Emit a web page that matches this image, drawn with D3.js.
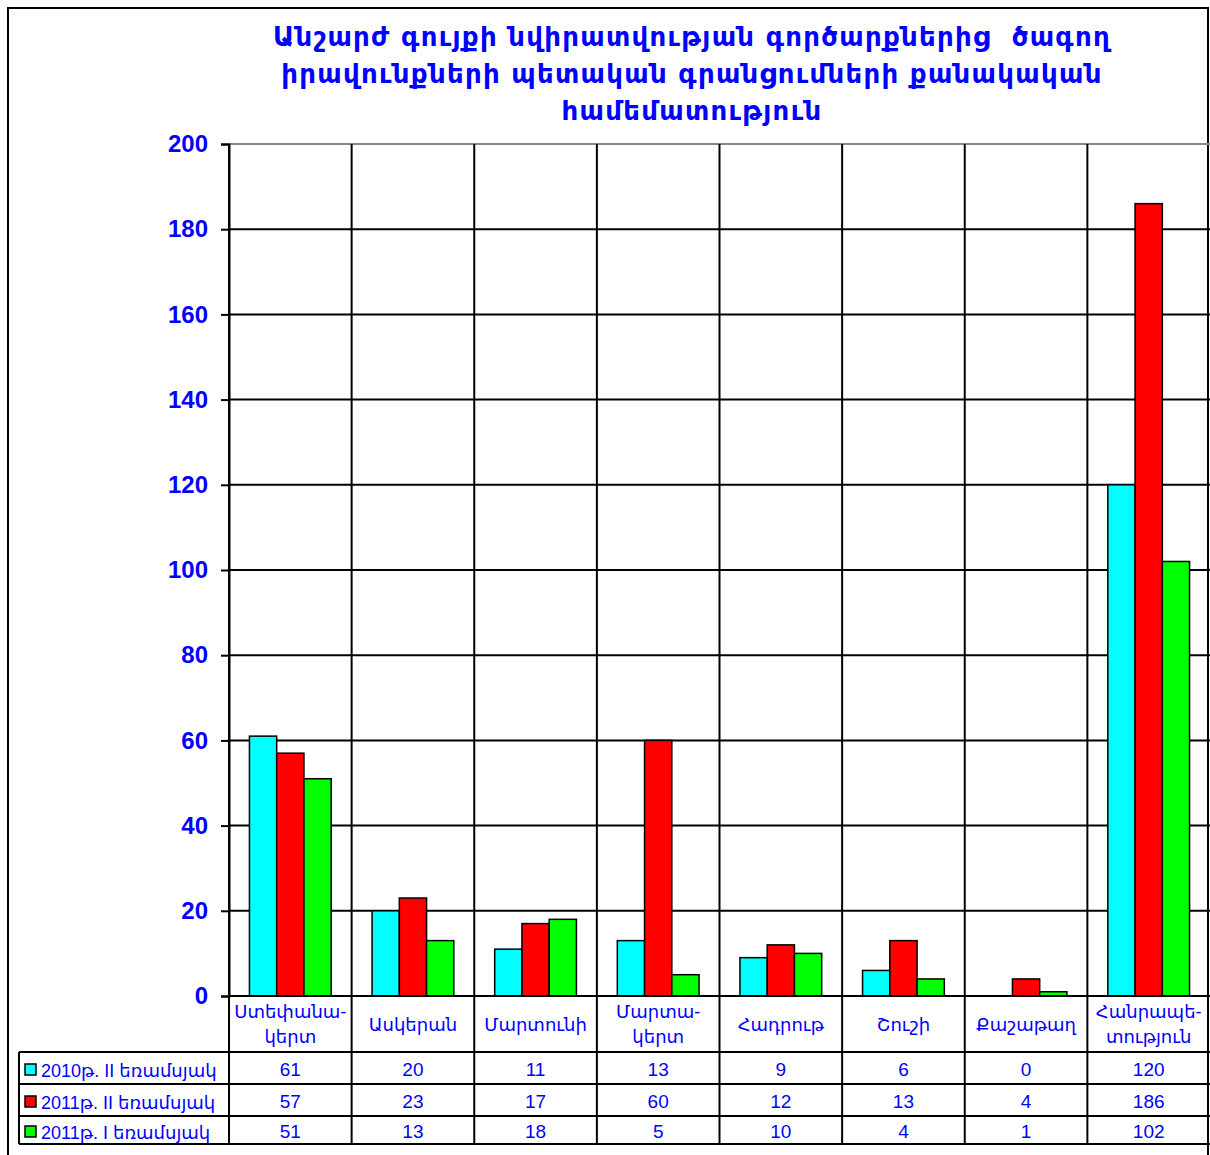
<!DOCTYPE html>
<html><head><meta charset="utf-8">
<script src="https://cdn.jsdelivr.net/npm/d3@7"></script>
<style>
html,body{margin:0;padding:0;background:#fff;}
svg{display:block;}
</style></head>
<body>
<script>
const titleLines = ["Անշարժ գույքի նվիրատվության գործարքներից  ծագող","իրավունքների պետական գրանցումների քանակական","համեմատություն"];
const categories = ["Ստեփանա-\nկերտ","Ասկերան","Մարտունի","Մարտա-\nկերտ","Հադրութ","Շուշի","Քաշաթաղ","Հանրապե-\nտություն"];
const seriesNames = ["2010թ. II եռամսյակ","2011թ. II եռամսյակ","2011թ. I եռամսյակ"];
const seriesColors = ["#00ffff","#ff0000","#00ff00"];
const s2010II = [61,20,11,13,9,6,0,120];
const s2011II = [57,23,17,60,12,13,4,186];
const s2011I = [51,13,18,5,10,4,1,102];
const yTicks = [0,20,40,60,80,100,120,140,160,180,200];

(function(){
const series = [s2010II, s2011II, s2011I];
const W = 1210, H = 1155;
const svg = d3.select("body").append("svg").attr("width", W).attr("height", H);
const blue = "#0000ff";
const armFont = "'Liberation Sans','DejaVu Sans',sans-serif";

svg.append("rect").attr("x",8).attr("y",8).attr("width",1200).attr("height",1160)
  .attr("fill","none").attr("stroke","#000").attr("stroke-width",2);

svg.append("g").selectAll("text").data(titleLines).join("text")
  .attr("x",692).attr("y",(d,i)=>46+i*37)
  .attr("text-anchor","middle")
  .attr("font-family","'DejaVu Sans',sans-serif")
  .attr("font-weight","bold").attr("font-size",26).attr("fill",blue)
  .attr("letter-spacing",1.3)
  .style("white-space","pre")
  .text(d=>d);

const pL = 229, pR = 1210, pT = 144, pB = 996;
const x = d3.scaleBand().domain(categories).range([pL,pR]).paddingInner(0).paddingOuter(0);
const xs = d3.scaleBand().domain(d3.range(series.length)).range([0,x.bandwidth()]).paddingInner(0).paddingOuter(0.75);
const y = d3.scaleLinear().domain([0,200]).range([pB,pT]);

const g = svg.append("g");
g.selectAll("line.h").data(yTicks).join("line")
  .attr("x1",pL).attr("x2",pR)
  .attr("y1",d=>y(d)).attr("y2",d=>y(d))
  .attr("stroke",d=>d===200?"#888":"#000").attr("stroke-width",2);
g.selectAll("line.v").data(categories.slice(1)).join("line")
  .attr("x1",d=>x(d)).attr("x2",d=>x(d))
  .attr("y1",pT).attr("y2",1145)
  .attr("stroke","#000").attr("stroke-width",2);

const bars = svg.append("g");
series.forEach((vals,si)=>{
  bars.selectAll(null).data(vals.map((v,i)=>({v,c:categories[i]})).filter(d=>d.v>0)).join("rect")
    .attr("x",d=>x(d.c)+xs(si))
    .attr("y",d=>y(d.v))
    .attr("width",xs.bandwidth())
    .attr("height",d=>y(0)-y(d.v))
    .attr("fill",seriesColors[si]).attr("stroke","#000").attr("stroke-width",1.5);
});

const yAxis = d3.axisLeft(y).tickValues(yTicks).tickSize(8).tickPadding(13);
const ya = svg.append("g").attr("transform",`translate(${pL},0)`).call(yAxis);
ya.select(".domain").attr("stroke","#000").attr("stroke-width",2);
ya.selectAll(".tick line").attr("stroke","#000").attr("stroke-width",2);
ya.selectAll(".tick text").attr("fill",blue).attr("font-family","'Liberation Sans',Arial,sans-serif")
  .attr("font-weight","bold").attr("font-size",24);

const tbl = svg.append("g");
const rowY = [996,1052,1084,1116,1144];
const tLeft = 19;
tbl.append("line").attr("x1",pL).attr("x2",pR).attr("y1",rowY[0]).attr("y2",rowY[0]).attr("stroke","#000").attr("stroke-width",2);
[1,2,3,4].forEach(k=>{
  tbl.append("line").attr("x1",tLeft).attr("x2",pR).attr("y1",rowY[k]).attr("y2",rowY[k]).attr("stroke","#000").attr("stroke-width",2);
});
tbl.append("line").attr("x1",pL).attr("x2",pL).attr("y1",pT).attr("y2",rowY[4]).attr("stroke","#000").attr("stroke-width",2);
tbl.append("line").attr("x1",tLeft).attr("x2",tLeft).attr("y1",rowY[1]).attr("y2",rowY[4]).attr("stroke","#000").attr("stroke-width",2);

categories.forEach(c=>{
  const lines = c.split("\n");
  const cx = x(c)+x.bandwidth()/2;
  const t = tbl.append("text").attr("text-anchor","middle").attr("fill",blue)
    .attr("font-family",armFont).attr("font-size",18);
  const y0 = lines.length===1 ? 1031 : 1018;
  lines.forEach((ln,i)=>t.append("tspan").attr("x",cx).attr("y",y0+i*25).text(ln));
});

series.forEach((vals,si)=>{
  const cy = (rowY[si+1]+rowY[si+2])/2;
  tbl.append("rect").attr("x",25).attr("y",cy-4).attr("width",11).attr("height",11)
    .attr("fill",seriesColors[si]).attr("stroke","#000").attr("stroke-width",1.5);
  tbl.append("text").attr("x",41).attr("y",cy+9).attr("fill",blue)
    .attr("font-family",armFont).attr("font-size",18).text(seriesNames[si]);
  vals.forEach((v,i)=>{
    tbl.append("text").attr("x",x(categories[i])+x.bandwidth()/2).attr("y",cy+8)
      .attr("text-anchor","middle").attr("fill",blue)
      .attr("font-family","'Liberation Sans',Arial,sans-serif").attr("font-size",19).text(v);
  });
});
})();
</script>
</body></html>
